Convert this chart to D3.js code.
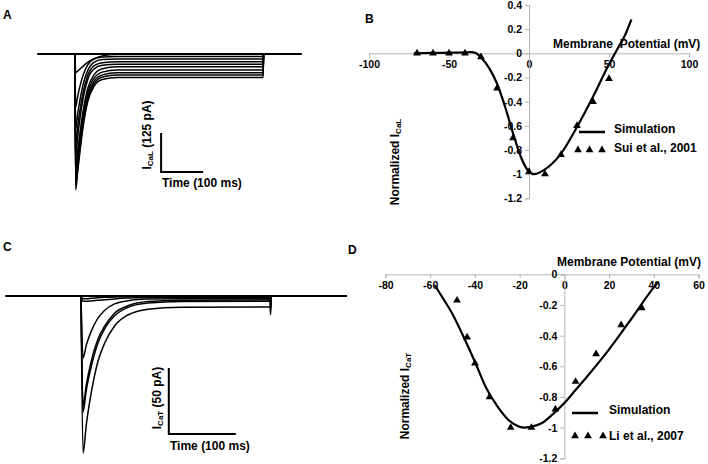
<!DOCTYPE html>
<html><head><meta charset="utf-8">
<script src="https://cdn.jsdelivr.net/npm/d3@7"></script>
<style>
body{margin:0;background:#fff}
text{font-family:Arial,"Liberation Sans",sans-serif;font-weight:bold;fill:#000}
</style>
</head><body>
<svg id="chart" width="708" height="464"></svg>
<script>
// ---------- Panel A: I_CaL current traces (time ms, current pA) ----------
const tA = [0, 1.5, 6, 12, 20, 30, 45, 65, 100, 150, 448, 449];
const caLTraces = [
  [0, -436, -382, -310, -227, -154, -104, -82, -75, -75, -75, 0],
  [0, -425, -371, -300, -217, -146, -96, -74, -67, -67, -67, 0],
  [0, -410, -358, -288, -207, -137, -88, -67, -60, -60, -60, 0],
  [0, -390, -339, -271, -193, -126, -78, -58, -51, -51, -51, 0],
  [0, -365, -316, -252, -177, -112, -67, -47, -41, -41, -41, 0],
  [0, -330, -271, -205, -137, -83, -48, -36, -33, -33, -33, 0],
  [0, -290, -237, -179, -118, -70, -38, -28, -25, -25, -25, 0],
  [0, -240, -195, -146, -94, -54, -27, -18, -16, -16, -16, 0],
  [0, -170, -138, -102, -65, -36, -16, -10, -8, -8, -8, 0],
  [0, -60, -55, -48, -38, -27, -15, -6, -1, 0, 0, 0]
];
const baselineA = [-90, 540];
const scaleBarA = {t0: 205, t1: 305, i0: -378, i1: -253};

// ---------- Panel C: I_CaT current traces ----------
const tC = [0, 3, 8, 15, 25, 35, 50, 70, 100, 150, 282, 283, 284];
const caTTraces = [
  [0, -119, -97, -74, -50, -36, -22.7, -14.4, -10, -8.5, -8.3, -14, 0],
  [0, -88, -71, -54, -36, -25, -15, -8.6, -5.3, -4.2, -4, -10, 0],
  [0, -83, -67, -50, -33, -23, -13, -7.4, -4.2, -3.2, -3, -9, 0],
  [0, -47, -37, -27, -17, -11, -6, -3.6, -2.3, -2, -2, -5, 0],
  [0, -4, -4, -3.8, -3.3, -2.8, -2.2, -1.6, -1.2, -1, -1, -2, 0],
  [0, -2, -2, -1.7, -1.3, -1, -0.7, -0.5, -0.3, -0.3, -0.3, -1, 0]
];
const baselineC = [-113, 397];
const scaleBarC = {t0: 131, t1: 231, i0: -104.5, i1: -54.5};

// ---------- Panel B: I-V of I_CaL ----------
const simB_V = [-72, -60, -50, -40, -36, -33, -30, -25, -20, -15, -10, -5, 0, 3, 10, 20, 30, 40, 50, 55, 60, 64];
const simB_I = [0, 0.003, 0.005, 0.008, 0.01, 0.0, -0.035, -0.12, -0.25, -0.44, -0.66, -0.86, -0.98, -1.0, -0.96, -0.83, -0.61, -0.36, -0.09, 0.03, 0.15, 0.28];
const suiV = [-70, -60, -50, -40, -30, -20, -10, 0, 10, 20, 30, 40, 50];
const suiI = [0, 0, 0, 0, -0.03, -0.29, -0.70, -0.98, -1.0, -0.84, -0.60, -0.40, -0.21];
const xTicksB = [-100, -50, 0, 50, 100];
const yTicksB = [0.4, 0.2, 0, -0.2, -0.4, -0.6, -0.8, -1, -1.2];

// ---------- Panel D: I-V of I_CaT ----------
const simD_V = [-58, -55, -50, -45, -40, -35, -30, -25, -20, -18, -15, -10, -5, 0, 5, 10, 20, 30, 40, 42];
const simD_I = [-0.07, -0.14, -0.26, -0.41, -0.57, -0.74, -0.86, -0.95, -0.995, -1.0, -0.995, -0.97, -0.91, -0.84, -0.755, -0.67, -0.49, -0.29, -0.085, -0.05];
const liV = [-48, -43.5, -40, -33.5, -24, -14.7, -4, 5, 14.2, 25.4, 34.6];
const liI = [-0.17, -0.41, -0.58, -0.80, -1.0, -1.0, -0.88, -0.70, -0.52, -0.33, -0.22];
const xTicksD = [-80, -60, -40, -20, 0, 20, 40, 60];
const yTicksD = [0, -0.2, -0.4, -0.6, -0.8, -1, -1.2];

const svg = d3.select("#chart");
const fmt = d => (d === 0 ? "0" : String(d));

// ===== Panel A =====
{
  const x = d3.scaleLinear().domain([-90, 540]).range([37.2, 301.8]);
  const y = d3.scaleLinear().domain([-450, 0]).range([194.4, 54]);
  const g = svg.append("g");
  g.append("line").attr("x1", x(baselineA[0])).attr("x2", x(baselineA[1]))
    .attr("y1", y(0)).attr("y2", y(0)).attr("stroke", "#000").attr("stroke-width", 2);
  const line = d3.line().x((d, i) => x(tA[i])).y(d => y(d)).curve(d3.curveMonotoneX);
  g.selectAll("path.tr").data(caLTraces).join("path").attr("class", "tr")
    .attr("d", line).attr("fill", "none").attr("stroke", "#000").attr("stroke-width", 1.5);
  // scale bar
  g.append("path").attr("d", `M${x(scaleBarA.t0)},${y(scaleBarA.i1)}V${y(scaleBarA.i0)}H${x(scaleBarA.t1)}`)
    .attr("fill", "none").attr("stroke", "#000").attr("stroke-width", 2);
  g.append("text").attr("x", 162).attr("y", 187).attr("font-size", 12).text("Time (100 ms)");
  const ty = g.append("text").attr("transform", "translate(151,135) rotate(-90)")
    .attr("text-anchor", "middle").attr("font-size", 12);
  ty.append("tspan").text("I");
  ty.append("tspan").attr("font-size", 8).attr("dy", 2).text("CaL");
  ty.append("tspan").attr("dy", -2).text(" (125 pA)");
  svg.append("text").attr("x", 3).attr("y", 19).attr("font-size", 12).text("A");
}

// ===== Panel C =====
{
  const x = d3.scaleLinear().domain([-113, 342]).range([5.3, 310.2]);
  const y = d3.scaleLinear().domain([-125, 0]).range([461, 296]);
  const g = svg.append("g");
  g.append("line").attr("x1", x(baselineC[0])).attr("x2", x(baselineC[1]))
    .attr("y1", y(0)).attr("y2", y(0)).attr("stroke", "#000").attr("stroke-width", 1.8);
  const line = d3.line().x((d, i) => x(tC[i])).y(d => y(d)).curve(d3.curveMonotoneX);
  g.selectAll("path.tr").data(caTTraces).join("path").attr("class", "tr")
    .attr("d", line).attr("fill", "none").attr("stroke", "#000").attr("stroke-width", 1.5);
  g.append("path").attr("d", `M${x(scaleBarC.t0)},${y(scaleBarC.i1)}V${y(scaleBarC.i0)}H${x(scaleBarC.t1)}`)
    .attr("fill", "none").attr("stroke", "#000").attr("stroke-width", 2);
  g.append("text").attr("x", 170).attr("y", 450).attr("font-size", 12).text("Time (100 ms)");
  const ty = g.append("text").attr("transform", "translate(161,398) rotate(-90)")
    .attr("text-anchor", "middle").attr("font-size", 12);
  ty.append("tspan").text("I");
  ty.append("tspan").attr("font-size", 8).attr("dy", 2).text("CaT");
  ty.append("tspan").attr("dy", -2).text(" (50 pA)");
  svg.append("text").attr("x", 3).attr("y", 251).attr("font-size", 12).text("C");
}

function ivPanel(opt) {
  const x = d3.scaleLinear().domain(opt.xDom).range(opt.xRange);
  const y = d3.scaleLinear().domain(opt.yDom).range(opt.yRange);
  const g = svg.append("g");
  const gx = g.append("g").attr("transform", `translate(0,${y(0)})`)
    .call(d3.axisBottom(x).tickValues(opt.xTicks).tickSize(4).tickPadding(3).tickFormat(fmt));
  const gy = g.append("g").attr("transform", `translate(${x(0)},0)`)
    .call(d3.axisLeft(y).tickValues(opt.yTicks).tickSize(4).tickPadding(3).tickFormat(fmt));
  [gx, gy].forEach(a => {
    a.select(".domain").attr("stroke", "#b4b4b4");
    a.selectAll(".tick line").attr("stroke", "#b4b4b4");
    a.selectAll(".tick text").attr("font-size", 10.5).attr("font-family", "Arial,'Liberation Sans',sans-serif")
      .attr("font-weight", "bold").attr("fill", "#000");
  });
  const line = d3.line().x((d, i) => x(opt.simV[i])).y(d => y(d)).curve(d3.curveMonotoneX);
  g.append("path").datum(opt.simI).attr("d", line).attr("fill", "none")
    .attr("stroke", "#000").attr("stroke-width", 2.2);
  const tri = d3.symbol(d3.symbolTriangle, 26);
  g.selectAll("path.pt").data(opt.expI).join("path").attr("class", "pt")
    .attr("transform", (d, i) => `translate(${x(opt.expV[i])},${y(d)})`)
    .attr("d", tri).attr("fill", "#000");
  // titles
  g.append("text").attr("x", opt.xTitle[0]).attr("y", opt.xTitle[1]).attr("font-size", 12)
    .attr("xml:space", "preserve").style("white-space", "pre").text(opt.xTitleText);
  const ty = g.append("text").attr("transform", `translate(${opt.yTitle[0]},${opt.yTitle[1]}) rotate(-90)`)
    .attr("text-anchor", "middle").attr("font-size", 12);
  ty.append("tspan").text("Normalized I");
  ty.append("tspan").attr("font-size", 8).attr("dy", 2).text(opt.sub);
  // legend
  const L = opt.legend;
  g.append("line").attr("x1", L.x0).attr("x2", L.x1).attr("y1", L.y0).attr("y2", L.y0)
    .attr("stroke", "#000").attr("stroke-width", 2.5);
  g.append("text").attr("x", L.tx).attr("y", L.b0).attr("font-size", 12).text("Simulation");
  g.selectAll("path.lg").data(L.triX).join("path").attr("class", "lg")
    .attr("transform", d => `translate(${d},${L.y1})`).attr("d", tri).attr("fill", "#000");
  g.append("text").attr("x", L.tx).attr("y", L.b1).attr("font-size", 12).text(L.label);
  svg.append("text").attr("x", opt.panel[0]).attr("y", opt.panel[1]).attr("font-size", 12).text(opt.panel[2]);
}

ivPanel({
  xDom: [-100, 100], xRange: [369, 689], yDom: [-1.2, 0.4], yRange: [198.3, 5],
  xTicks: xTicksB, yTicks: yTicksB, simV: simB_V, simI: simB_I, expV: suiV, expI: suiI,
  xTitle: [553, 48], xTitleText: "Membrane  Potential (mV)", yTitle: [399, 162], sub: "CaL",
  legend: {x0: 579, x1: 605, y0: 132, tx: 614, b0: 133, triX: [578, 589.5, 602], y1: 150, b1: 152, label: "Sui et al., 2001"},
  panel: [365, 23, "B"]
});
ivPanel({
  xDom: [-80, 60], xRange: [385.5, 698.5], yDom: [-1.2, 0], yRange: [458.3, 274.3],
  xTicks: xTicksD, yTicks: yTicksD, simV: simD_V, simI: simD_I, expV: liV, expI: liI,
  xTitle: [557, 266], xTitleText: "Membrane Potential (mV)", yTitle: [409, 396], sub: "CaT",
  legend: {x0: 572, x1: 598, y0: 413, tx: 609, b0: 414, triX: [575, 588, 603], y1: 436, b1: 440, label: "Li et al., 2007"},
  panel: [348, 254, "D"]
});
</script>
</body></html>
